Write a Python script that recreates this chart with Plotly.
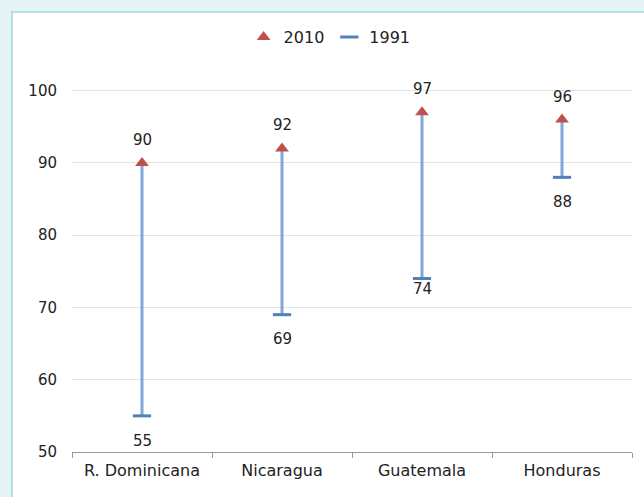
import plotly.graph_objects as go

categories = ["R. Dominicana", "Nicaragua", "Guatemala", "Honduras"]
values_2010 = [90, 92, 97, 96]
values_1991 = [55, 69, 74, 88]
y_ticks = [50, 60, 70, 80, 90, 100]

# label offsets (px) for the 1991 labels, as placed in the original
shift_1991 = [-25, -24, -10, -25]

W, H = 644, 497
L, R, T, B = 72, 12, 87, 45
pw = W - L - R
ph = H - T - B

fig = go.Figure()

lx, ly = [], []
for c, a, b in zip(categories, values_1991, values_2010):
    lx += [c, c, None]
    ly += [a, b, None]
fig.add_trace(go.Scatter(x=lx, y=ly, mode="lines", line=dict(color="#7fa6d9", width=3),
                         showlegend=False, hoverinfo="skip"))

fig.add_trace(go.Scatter(x=categories, y=values_2010, mode="markers", name="2010",
                         marker=dict(symbol="triangle-up", size=12, color="#c0504d")))
fig.add_trace(go.Scatter(x=categories, y=values_1991, mode="markers", name="1991",
                         marker=dict(symbol="line-ew", size=13, color="#4f81bd",
                                     line=dict(width=3, color="#4f81bd"))))

font = "DejaVu Sans, Verdana, sans-serif"
anns = []
for c, v in zip(categories, values_2010):
    anns.append(dict(x=c, y=v, text=str(v), showarrow=False, yshift=23,
                     font=dict(size=15, color="#222", family=font)))
for c, v, s in zip(categories, values_1991, shift_1991):
    anns.append(dict(x=c, y=v, text=str(v), showarrow=False, yshift=s,
                     font=dict(size=15, color="#222", family=font)))

x0 = (12 - L) / pw
x1 = (W - L) / pw
y1 = 1 + (T - 12) / ph
y0 = -(B + 5) / ph
shapes = [dict(type="rect", xref="paper", yref="paper", x0=x0, x1=x1 + 0.05, y0=y0, y1=y1,
               fillcolor="white", line=dict(color="#aee0ea", width=2), layer="below")]

fig.update_layout(
    width=W, height=H,
    margin=dict(l=L, r=R, t=T, b=B),
    paper_bgcolor="#e4f3f6",
    plot_bgcolor="white",
    font=dict(family=font, size=15, color="#222"),
    shapes=shapes,
    annotations=anns,
    legend=dict(orientation="h", x=0.46, xanchor="center", y=1 + (T - 37) / ph, yanchor="middle",
                font=dict(size=16), itemwidth=30, bgcolor="rgba(0,0,0,0)"),
    xaxis=dict(type="category", range=[-0.5, 3.5], showgrid=False, showline=True,
               linecolor="#999", linewidth=1, ticks="outside", tickson="boundaries",
               ticklen=5, tickcolor="#999", tickfont=dict(size=16), ticklabelstandoff=4),
    yaxis=dict(range=[50, 100.5], tickvals=y_ticks, showgrid=True, gridcolor="#e2e2e2",
               gridwidth=1, zeroline=False, showline=False, ticks="", tickfont=dict(size=15),
               ticklabelstandoff=14),
)

fig.write_html("out.html")
